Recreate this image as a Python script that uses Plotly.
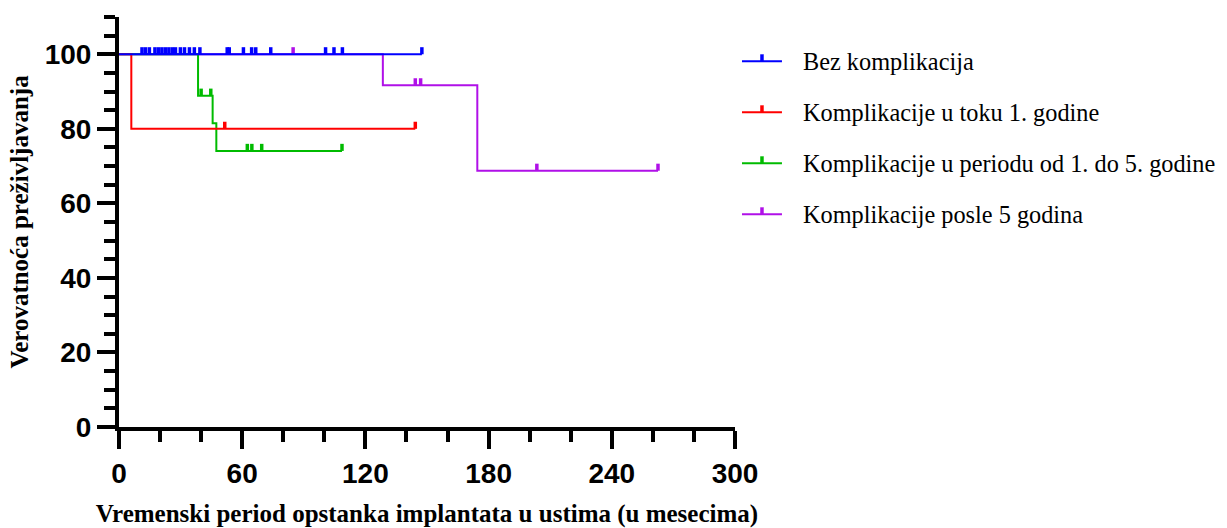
import plotly.graph_objects as go

# Kaplan-Meier survival of implants by complication group (months, %)
bez_times = [0, 147.5]
bez_surv = [100, 100]
bez_cens = [11.2, 12.9, 14.8, 17.5, 19.2, 20.9, 22.6, 24.3, 26.0, 27.5, 29.9, 31.9,
            34.3, 36.7, 39.4, 52.7, 53.7, 60.6, 64.6, 66.6, 73.9, 100.6, 104.7,
            108.8, 147.5]

god1_times = [0, 6, 144.3]
god1_surv = [100, 80, 80]
god1_cens = [51.5, 144.3]

god15_times = [0, 38.5, 45.6, 47.4, 108.6]
god15_surv = [100, 88.89, 81.48, 74.07, 74.07]
god15_cens = [40.0, 44.7, 62.5, 64.7, 69.5, 108.6]

god5_times = [0, 128.5, 174.5, 262.5]
god5_surv = [100, 91.67, 68.75, 68.75]
god5_cens = [84.8, 144.3, 146.9, 203.5, 262.5]

names = [
    "Bez komplikacija",
    "Komplikacije u toku 1. godine",
    "Komplikacije u periodu od 1. do 5. godine",
    "Komplikacije posle 5 godina",
]
colors = ["#0000FF", "#FF0000", "#00BB00", "#B010E8"]

x_ticks = [0, 60, 120, 180, 240, 300]
y_ticks = [0, 20, 40, 60, 80, 100]

W, H = 1227, 528
ML, MR, MT, MB = 118.5, 492, 16.7, 101.3
PW, PH = W - ML - MR, H - MT - MB


def px_to_paper(px, py):
    return (px - ML) / PW, 1 - (py - MT) / PH


def surv_at(times, surv, t):
    s = surv[0]
    for ti, si in zip(times, surv):
        if ti <= t:
            s = si
    return s


groups = [
    (bez_times, bez_surv, bez_cens),
    (god1_times, god1_surv, god1_cens),
    (god15_times, god15_surv, god15_cens),
    (god5_times, god5_surv, god5_cens),
]

fig = go.Figure()
# draw purple first so the blue line sits on top at 100 %
order = [3, 2, 1, 0]
for i in order:
    times, surv, cens = groups[i]
    fig.add_trace(go.Scatter(
        x=times, y=surv, mode="lines", line=dict(color=colors[i], width=2, shape="hv"),
        name=names[i], showlegend=False, hoverinfo="skip"))
    cy = [surv_at(times, surv, t) for t in cens]
    fig.add_trace(go.Scatter(
        x=cens, y=cy, mode="markers", marker=dict(size=1, opacity=0),
        error_y=dict(type="constant", value=1.9, valueminus=0, symmetric=False,
                     color=colors[i], thickness=3.5, width=0),
        showlegend=False, hoverinfo="skip"))

# legend: short line with a censor tick, followed by the group name
shapes, annotations = [], []
leg_x0, leg_x1, leg_text_x = 742, 782, 801
leg_y0, leg_dy = 61, 51
for i, name in enumerate(names):
    ly = leg_y0 + i * leg_dy
    ax0, ay = px_to_paper(leg_x0, ly)
    ax1, _ = px_to_paper(leg_x1, ly)
    amx, _ = px_to_paper((leg_x0 + leg_x1) / 2, ly)
    _, aty = px_to_paper(0, ly - 7)
    shapes.append(dict(type="line", xref="paper", yref="paper", x0=ax0, x1=ax1, y0=ay, y1=ay,
                       line=dict(color=colors[i], width=2)))
    shapes.append(dict(type="line", xref="paper", yref="paper", x0=amx, x1=amx, y0=ay, y1=aty,
                       line=dict(color=colors[i], width=3.5)))
    tx, ty = px_to_paper(leg_text_x, ly + 0.5)
    annotations.append(dict(text=name, xref="paper", yref="paper", x=tx, y=ty,
                            xanchor="left", yanchor="middle", showarrow=False,
                            font=dict(family="Liberation Serif", size=24.3, color="black")))

tick_font = dict(family="Liberation Sans", size=28, color="black", weight="bold")
title_font = dict(family="Liberation Serif", size=25, color="black", weight="bold")

fig.update_layout(
    template="none",
    width=W, height=H,
    margin=dict(l=ML, r=MR, t=MT, b=MB),
    plot_bgcolor="white", paper_bgcolor="white",
    showlegend=False,
    shapes=shapes, annotations=annotations,
    xaxis=dict(
        range=[0, 300], tickvals=x_ticks, ticktext=[str(v) for v in x_ticks],
        showline=True, linecolor="black", linewidth=4, automargin=False,
        ticks="outside", ticklen=18, tickwidth=4, tickcolor="black",
        minor=dict(dtick=20, ticks="outside", ticklen=11, tickwidth=4, tickcolor="black"),
        showgrid=False, zeroline=False, tickfont=tick_font,
        title=dict(text="Vremenski period opstanka implantata u ustima (u mesecima)",
                   font=title_font, standoff=27),
    ),
    yaxis=dict(
        range=[0, 110], tickvals=y_ticks, ticktext=[str(v) for v in y_ticks],
        showline=True, linecolor="black", linewidth=4, automargin=False,
        ticks="outside", ticklen=18, tickwidth=4, tickcolor="black",
        minor=dict(dtick=5, ticks="outside", ticklen=11, tickwidth=4, tickcolor="black"),
        showgrid=False, zeroline=False, tickfont=tick_font,
        title=dict(text="Verovatnoća preživljavanja", font=title_font, standoff=10),
    ),
)

fig.write_html("out.html")
